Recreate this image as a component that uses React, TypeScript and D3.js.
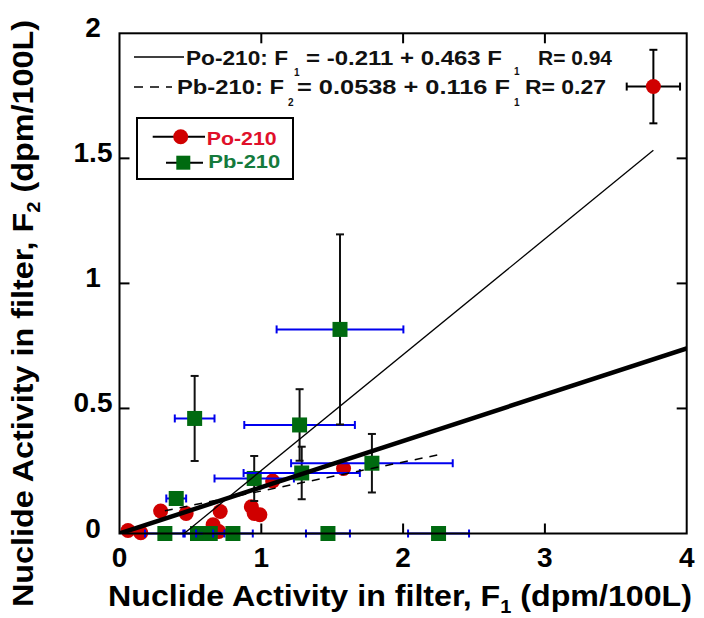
import React from 'react';
import * as d3 from 'd3';

// Po-210 data (red circles)
const poX = [0.06, 0.15, 0.29, 0.47, 0.66, 0.70, 0.71, 0.93, 0.99, 0.95, 1.08, 1.58, 3.765];
const poY = [0.012, 0.003, 0.09, 0.08, 0.035, 0.008, 0.088, 0.107, 0.075, 0.08, 0.21, 0.26, 1.787];
const poXErr = [0, 0, 0, 0, 0, 0, 0, 0, 0, 0, 0, 0, 0.188];
const poYErr = [0, 0, 0, 0, 0, 0, 0, 0, 0, 0, 0, 0, 0.147];

// Pb-210 data (green squares)
const pbX = [0.32, 0.40, 0.53, 0.55, 0.64, 0.80, 0.95, 1.27, 1.285, 1.47, 1.555, 1.78, 2.25];
const pbY = [0, 0.14, 0.46, 0, 0, 0, 0.22, 0.434, 0.242, 0, 0.816, 0.281, 0];
const pbXErr = [0.14, 0.07, 0.14, 0.1, 0.1, 0.14, 0.28, 0.39, 0.41, 0.155, 0.447, 0.57, 0.215];
const pbYErr = [0, 0, 0.17, 0, 0, 0, 0.09, 0.143, 0.105, 0, 0.38, 0.117, 0];

// fits
const poFit = [-0.211, 0.463];
const pbFit = [0.0538, 0.116];
const refSlope = 0.185;

const xTicks = [0, 1, 2, 3, 4];
const yTicks = [0, 0.5, 1, 1.5, 2];
const yTickLabels = ['0', '0.5', '1', '1.5', '2'];

const FONT = '"Liberation Sans", Arial, sans-serif';
const RED = '#d00000';
const GREEN = '#006a10';

export default function App() {
  const L = 119.5, R = 686.7, T = 33.3, B = 533.5;
  const x = d3.scaleLinear().domain([0, 4]).range([L, R]);
  const y = d3.scaleLinear().domain([0, 2]).range([B, T]);
  const line = d3.line<[number, number]>().x(d => x(d[0])).y(d => y(d[1]));

  const poMin = d3.min(poX)!, poMax = d3.max(poX)!;
  const pbMin = d3.min(pbX)!, pbMax = d3.max(pbX)!;
  const poLine: [number, number][] = [[poMin, poFit[0] + poFit[1] * poMin], [poMax, poFit[0] + poFit[1] * poMax]];
  const pbLine: [number, number][] = [[pbMin, pbFit[0] + pbFit[1] * pbMin], [pbMax, pbFit[0] + pbFit[1] * pbMax]];
  const refLine: [number, number][] = [[0, 0], [4, refSlope * 4]];

  const cap = 4;

  return (
    <svg width={704} height={618} style={{ position: 'absolute', left: 0, top: 0, background: '#fff' }} fontFamily={FONT}>
      <defs>
        <clipPath id="plot">
          <rect x={L} y={T} width={R - L} height={B - T} />
        </clipPath>
      </defs>

      {/* Po-210 points */}
      {poX.map((v, i) => (
        <g key={'po' + i}>
          {poXErr[i] > 0 && (
            <g stroke="#000" strokeWidth={2}>
              <line x1={x(v - poXErr[i])} x2={x(v + poXErr[i])} y1={y(poY[i])} y2={y(poY[i])} />
              <line x1={x(v - poXErr[i])} x2={x(v - poXErr[i])} y1={y(poY[i]) - cap} y2={y(poY[i]) + cap} />
              <line x1={x(v + poXErr[i])} x2={x(v + poXErr[i])} y1={y(poY[i]) - cap} y2={y(poY[i]) + cap} />
            </g>
          )}
          {poYErr[i] > 0 && (
            <g stroke="#000" strokeWidth={2}>
              <line x1={x(v)} x2={x(v)} y1={y(poY[i] - poYErr[i])} y2={y(poY[i] + poYErr[i])} />
              <line x1={x(v) - cap} x2={x(v) + cap} y1={y(poY[i] - poYErr[i])} y2={y(poY[i] - poYErr[i])} />
              <line x1={x(v) - cap} x2={x(v) + cap} y1={y(poY[i] + poYErr[i])} y2={y(poY[i] + poYErr[i])} />
            </g>
          )}
          <circle cx={x(v)} cy={y(poY[i])} r={7.5} fill={RED} />
        </g>
      ))}

      {/* Pb-210 points */}
      {pbX.map((v, i) => (
        <g key={'pb' + i}>
          {pbXErr[i] > 0 && (
            <g stroke="#0000ee" strokeWidth={2}>
              <line x1={x(v - pbXErr[i])} x2={x(v + pbXErr[i])} y1={y(pbY[i])} y2={y(pbY[i])} />
              <line x1={x(v - pbXErr[i])} x2={x(v - pbXErr[i])} y1={y(pbY[i]) - cap} y2={y(pbY[i]) + cap} />
              <line x1={x(v + pbXErr[i])} x2={x(v + pbXErr[i])} y1={y(pbY[i]) - cap} y2={y(pbY[i]) + cap} />
            </g>
          )}
          {pbYErr[i] > 0 && (
            <g stroke="#111" strokeWidth={2}>
              <line x1={x(v)} x2={x(v)} y1={y(pbY[i] - pbYErr[i])} y2={y(pbY[i] + pbYErr[i])} />
              <line x1={x(v) - cap} x2={x(v) + cap} y1={y(pbY[i] - pbYErr[i])} y2={y(pbY[i] - pbYErr[i])} />
              <line x1={x(v) - cap} x2={x(v) + cap} y1={y(pbY[i] + pbYErr[i])} y2={y(pbY[i] + pbYErr[i])} />
            </g>
          )}
          <rect x={x(v) - 7.5} y={y(pbY[i]) - 7.5} width={15} height={15} fill={GREEN} />
        </g>
      ))}

      {/* fit lines */}
      <g clipPath="url(#plot)" fill="none">
        <path d={line(refLine)!} stroke="#000" strokeWidth={4.5} />
        <path d={line(poLine)!} stroke="#000" strokeWidth={1.3} />
        <path d={line(pbLine)!} stroke="#000" strokeWidth={1.5} strokeDasharray="8,7" />
      </g>

      {/* frame */}
      <rect x={L} y={T} width={R - L} height={B - T} fill="none" stroke="#000" strokeWidth={2} />
      {xTicks.slice(1, -1).map(t => (
        <g key={'xt' + t} stroke="#000" strokeWidth={2}>
          <line x1={x(t)} x2={x(t)} y1={B} y2={B - 10} />
          <line x1={x(t)} x2={x(t)} y1={T} y2={T + 10} />
        </g>
      ))}
      {yTicks.slice(1, -1).map(t => (
        <g key={'yt' + t} stroke="#000" strokeWidth={2}>
          <line x1={L} x2={L + 10} y1={y(t)} y2={y(t)} />
          <line x1={R} x2={R - 10} y1={y(t)} y2={y(t)} />
        </g>
      ))}

      {/* tick labels */}
      {xTicks.map(t => (
        <text key={'xl' + t} x={x(t)} y={566.7} textAnchor="middle" fontSize={28} fontWeight="bold">{t}</text>
      ))}
      {yTicks.map((t, i) => (
        <text key={'yl' + t} x={93} y={y(t) + 4} textAnchor="middle" fontSize={28} fontWeight="bold">{yTickLabels[i]}</text>
      ))}

      {/* axis titles */}
      <text x={108} y={606} fontSize={29} fontWeight="bold" textLength={584} lengthAdjust="spacingAndGlyphs">
        Nuclide Activity in filter, F<tspan fontSize={18} dy={7}>1</tspan><tspan dy={-7}> (dpm/100L)</tspan>
      </text>
      <text transform="translate(33,607) rotate(-90)" x={0} y={0} fontSize={29} fontWeight="bold" textLength={587} lengthAdjust="spacingAndGlyphs">
        Nuclide Activity in filter, F<tspan fontSize={18} dy={7}>2</tspan><tspan dy={-7}> (dpm/100L)</tspan>
      </text>

      {/* equation legend */}
      <line x1={134} x2={184} y1={57} y2={57} stroke="#000" strokeWidth={1.5} />
      <line x1={134} x2={172} y1={87} y2={87} stroke="#000" strokeWidth={1.5} strokeDasharray="9,7" />
      <g fontSize={20} fontWeight="bold" fill="#111">
        <text x={186} y={65} textLength={102} lengthAdjust="spacingAndGlyphs">Po-210: F</text>
        <text x={294} y={76} fontSize={10}>1</text>
        <text x={306} y={65} textLength={196} lengthAdjust="spacingAndGlyphs">= -0.211 + 0.463 F</text>
        <text x={514} y={75} fontSize={10}>1</text>
        <text x={538} y={65} textLength={74} lengthAdjust="spacingAndGlyphs">R= 0.94</text>
        <text x={177} y={94} textLength={107} lengthAdjust="spacingAndGlyphs">Pb-210: F</text>
        <text x={288} y={106} fontSize={10}>2</text>
        <text x={297} y={94} textLength={213} lengthAdjust="spacingAndGlyphs">= 0.0538 + 0.116 F</text>
        <text x={514} y={106} fontSize={10}>1</text>
        <text x={525} y={94} textLength={81} lengthAdjust="spacingAndGlyphs">R= 0.27</text>
      </g>

      {/* marker legend */}
      <rect x={137} y={118} width={156} height={61} fill="#fff" stroke="#000" strokeWidth={2} />
      <line x1={152.7} x2={205} y1={136.7} y2={136.7} stroke="#000" strokeWidth={2} />
      <circle cx={180.7} cy={136.7} r={7.5} fill={RED} />
      <text x={206.7} y={145} fontSize={19} fontWeight="bold" fill="#e0102a" textLength={70} lengthAdjust="spacingAndGlyphs">Po-210</text>
      <line x1={166} x2={203} y1={162.7} y2={162.7} stroke="#000" strokeWidth={2} />
      <rect x={183.3 - 7} y={162.7 - 7} width={14} height={14} fill={GREEN} />
      <text x={208.3} y={168} fontSize={19} fontWeight="bold" fill="#157a3c" textLength={72} lengthAdjust="spacingAndGlyphs">Pb-210</text>
    </svg>
  );
}
